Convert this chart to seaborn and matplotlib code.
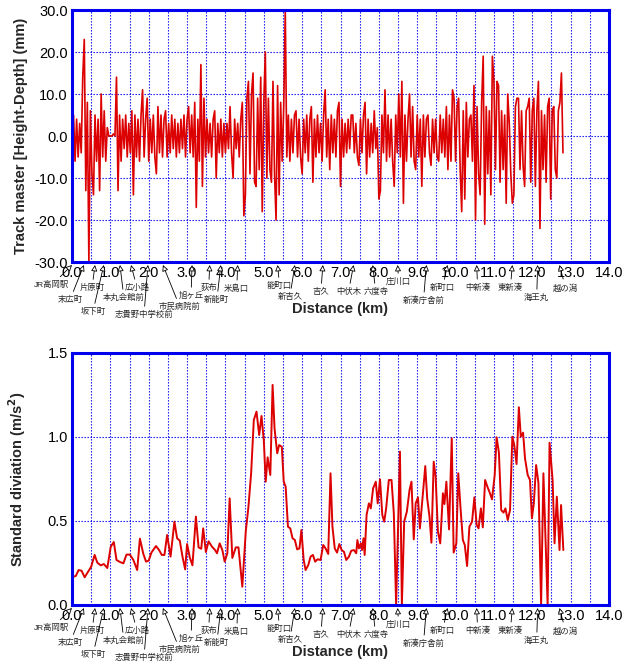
import numpy as np
import pandas as pd
import seaborn as sns
import matplotlib.pyplot as plt
from matplotlib.ticker import MultipleLocator, FormatStrFormatter


#
# data
#

# track irregularity, one value every 0.04 km (one row = 1 km)
track_step_km = 0.04
track_mm = [
    0, 5, -6, 4, -5, 3, -4, 14, 23, -13, 8, -30, 6, -9, -14, 5, -6, 4, -13, 10, -5, 6, -6, 2, 0,
    0, 0, 0.5, 0, 14, -13, 5, -6, 4, -3, 5, -5, 3, -4, 6, -14, 5, -5, 4, -6, 5, 11, -5, 4, 9,
    -6, 4, -4, 5, -5, -9, 7, -4, 5, -5, 4, 6, -5, 3, -4, 5, -3, 4, -5, 3, -4, 4, -3, 5, -5,
    4, 7, -4, 5, -5, 8, -17, 4, -6, 17, -12, 9, -5, 4, -4, 3, -5, 4, 6, -10, 3, -4, 4, -5, 3,
    -4, 3, -3, 7, -4, -10, 4, -3, 3, -5, 4, 8, -19, -14, 9, 13, -9, 10, 15, -11, -12, 9, -8, 14, -18,
    8, 20, -10, 9, -8, -11, 13, -9, -20, 12, -14, 8, -6, 7, 30, -5, 5, -6, 4, -4, 5, 6, -5, 4, -5,
    -9, 4, -4, 5, -6, 4, 7, -11, 4, -5, 5, -4, 3, -6, 5, 11, -5, 4, -8, 5, -4, 4, -5, 6, 8,
    -12, 4, -5, 3, -4, 4, -3, 5, 5, -4, 3, -5, -7, 4, -4, 5, 8, -9, 4, -5, 3, -4, 6, -3, 2,
    -15, -13, 5, -4, 11, -6, 5, -5, 4, -6, -12, 5, -4, 10, -5, 13, -16, 5, -6, 4, 10, -5, 7, -6, -8,
    5, -5, 4, -12, 5, -5, 4, 5, -4, -7, 4, -4, 4, -5, -6, 5, -4, 4, -5, 7, -8, 5, -6, 11, 9,
    -6, 7, 9, -8, -18, 6, -15, 8, -5, 4, 5, -6, 12, -20, 7, -9, -14, 8, 19, -21, 7, -9, 6, -14, 19,
    13, -8, 13, 12, -11, 6, -8, 5, -16, 10, 3, -9, -16, -14, 7, 9, 9, -8, 6, -7, -12, 6, 7, 9, -11,
    6, 9, -12, 6, 13, -22, 6, -8, 5, -11, 7, 9, -15, 6, 7, -8, -10, 6, 8, 15, -4,
]

# standard deviation of acceleration
std_km = [
    0.00, 0.10, 0.17, 0.25, 0.33, 0.42, 0.50, 0.59, 0.66, 0.75, 0.83, 0.92, 1.01, 1.09, 1.16,
    1.25, 1.34, 1.42, 1.51, 1.60, 1.70, 1.77, 1.86, 1.93, 2.00, 2.07, 2.19, 2.27, 2.34, 2.41,
    2.48, 2.57, 2.67, 2.74, 2.81, 2.88, 2.95, 3.00, 3.07, 3.14, 3.23, 3.30, 3.37, 3.42, 3.49,
    3.56, 3.65, 3.73, 3.78, 3.85, 3.92, 3.98, 4.05, 4.11, 4.18, 4.27, 4.34, 4.44, 4.53, 4.60,
    4.67, 4.74, 4.81, 4.88, 4.94, 5.00, 5.05, 5.10, 5.17, 5.23, 5.28, 5.35, 5.40, 5.47, 5.52,
    5.57, 5.63, 5.69, 5.75, 5.81, 5.87, 5.93, 5.98, 6.04, 6.09, 6.16, 6.22, 6.28, 6.34, 6.40,
    6.48, 6.55, 6.61, 6.68, 6.74, 6.79, 6.85, 6.91, 6.97, 7.03, 7.09, 7.15, 7.22, 7.28, 7.35,
    7.41, 7.44, 7.48, 7.53, 7.56, 7.60, 7.63, 7.68, 7.74, 7.79, 7.85, 7.92, 7.97, 8.03, 8.09,
    8.14, 8.19, 8.26, 8.33, 8.39, 8.45, 8.55, 8.60, 8.66, 8.73, 8.80, 8.85, 8.91, 8.96, 9.02,
    9.07, 9.14, 9.21, 9.26, 9.32, 9.37, 9.43, 9.48, 9.54, 9.60, 9.67, 9.71, 9.76, 9.83, 9.90,
    9.95, 10.02, 10.07, 10.13, 10.19, 10.24, 10.30, 10.36, 10.43, 10.49, 10.55, 10.60, 10.66, 10.71, 10.77,
    10.83, 10.89, 10.95, 11.02, 11.07, 11.13, 11.19, 11.25, 11.30, 11.36, 11.42, 11.48, 11.53, 11.59, 11.65,
    11.70, 11.76, 11.81, 11.88, 11.94, 11.99, 12.04, 12.10, 12.16, 12.23, 12.29, 12.40, 12.45, 12.53, 12.58,
    12.64, 12.71, 12.75, 12.81,
]
std_ms2 = [
    0.165, 0.173, 0.208, 0.204, 0.165, 0.198, 0.228, 0.298, 0.252, 0.236, 0.244, 0.220, 0.347, 0.375, 0.268,
    0.256, 0.248, 0.300, 0.300, 0.268, 0.208, 0.395, 0.304, 0.258, 0.264, 0.312, 0.351, 0.327, 0.298, 0.298,
    0.417, 0.288, 0.496, 0.397, 0.383, 0.288, 0.212, 0.363, 0.284, 0.236, 0.526, 0.343, 0.335, 0.456, 0.315,
    0.379, 0.347, 0.327, 0.308, 0.367, 0.327, 0.258, 0.308, 0.635, 0.280, 0.343, 0.343, 0.109, 0.437, 0.585,
    0.784, 1.101, 1.151, 1.012, 1.125, 0.982, 0.734, 0.879, 0.774, 1.310, 1.052, 0.903, 0.952, 0.942, 0.734,
    0.704, 0.466, 0.456, 0.397, 0.387, 0.331, 0.337, 0.446, 0.268, 0.208, 0.238, 0.288, 0.298, 0.258, 0.272,
    0.268, 0.357, 0.337, 0.304, 0.784, 0.466, 0.337, 0.312, 0.363, 0.327, 0.317, 0.268, 0.288, 0.323, 0.327,
    0.308, 0.387, 0.337, 0.367, 0.327, 0.397, 0.298, 0.536, 0.605, 0.575, 0.694, 0.734, 0.605, 0.748, 0.536,
    0.496, 0.575, 0.744, 0.744, 0.546, 0.0, 0.913, 0.0, 0.496, 0.556, 0.685, 0.734, 0.391, 0.605, 0.641,
    0.456, 0.645, 0.827, 0.635, 0.526, 0.371, 0.853, 0.764, 0.437, 0.367, 0.665, 0.601, 0.734, 0.450, 0.992,
    0.312, 0.367, 0.784, 0.575, 0.387, 0.357, 0.232, 0.466, 0.496, 0.641, 0.476, 0.456, 0.575, 0.462, 0.744,
    0.704, 0.669, 0.629, 0.774, 0.998, 0.907, 0.565, 0.550, 0.575, 0.506, 0.565, 1.002, 0.952, 0.839, 1.177,
    1.002, 1.026, 0.873, 0.774, 0.744, 0.516, 0.605, 0.833, 0.728, 0.0, 0.784, 0.0, 0.966, 0.744, 0.367,
    0.645, 0.327, 0.595, 0.327,
]

# stations along the line
station_names = [
    "JR高岡駅", "末広町", "片原町", "坂下町", "本丸会館前", "広小路", "志貴野中学校前", "市民病院前",
    "旭ヶ丘", "荻布", "新能町", "米島口", "能町口", "新吉久", "吉久", "中伏木", "六度寺", "庄川口",
    "新湊庁舎前", "新町口", "中新湊", "東新湊", "海王丸", "越の潟",
]
station_km = [
    0.00, 0.31, 0.60, 0.83, 1.25, 1.54, 1.98, 2.37, 3.13, 3.59, 3.88, 4.32, 5.36, 5.81, 6.54,
    7.34, 7.84, 8.49, 9.24, 9.79, 10.55, 11.48, 12.14, 12.71,
]

# where each station name sits relative to its arrow tip (pixels)
label_dx = [-20, -14, -3, -11, 4, 6, -4, 17, -1, -1, -4, -1, 2, -5, -2, -5, 3, 1, -3, -5, 1, -2, -1, 6]
label_dy = [20, 35, 23, 47, 33, 23, 50, 42, 31, 23, 35, 24, 21, 32, 27, 27, 27, 17, 36, 23, 23, 23, 33, 23]


#
# style
#

sns.set_theme(style="white")
plt.rcParams["font.family"] = ["Liberation Sans", "Noto Sans CJK JP", "DejaVu Sans"]

blue = "#0000ee"
red = "#dd0000"
dpi = 100
px = 72 / dpi  # pixels -> points

track = pd.DataFrame({"km": np.arange(len(track_mm)) * track_step_km, "mm": track_mm})
sd = pd.DataFrame({"km": std_km, "sd": std_ms2})

fig = plt.figure(figsize=(6.35, 6.64), dpi=dpi)
ax_top = fig.add_axes([72 / 635, 1 - 262 / 664, 537 / 635, 252 / 664])
ax_bot = fig.add_axes([72 / 635, 1 - 605 / 664, 537 / 635, 252 / 664])

sns.lineplot(data=track, x="km", y="mm", ax=ax_top, color=red, lw=1.2,
             estimator=None, sort=False, zorder=3)
sns.lineplot(data=sd, x="km", y="sd", ax=ax_bot, color=red, lw=1.4,
             estimator=None, sort=False, zorder=3)


def decorate(ax, ylim, ystep, ylabel):
    ax.set_xlim(0, 14)
    ax.set_ylim(*ylim)
    ax.xaxis.set_major_locator(MultipleLocator(1.0))
    ax.xaxis.set_minor_locator(MultipleLocator(0.5))
    ax.yaxis.set_major_locator(MultipleLocator(ystep))
    ax.xaxis.set_major_formatter(FormatStrFormatter("%.1f"))
    ax.yaxis.set_major_formatter(FormatStrFormatter("%.1f"))
    ax.grid(True, which="both", axis="x", color=blue, ls=(0, (1.2, 1.5)), lw=0.8, zorder=1)
    ax.grid(True, which="major", axis="y", color=blue, ls=(0, (1.2, 1.5)), lw=0.8, zorder=1)
    for s in ax.spines.values():
        s.set_color(blue)
        s.set_linewidth(2.2)
        s.set_zorder(4)
    ax.tick_params(which="both", direction="in", color=blue, length=4, width=1,
                   labelsize=10.5, labelcolor="black", pad=3)
    ax.tick_params(which="minor", length=3)
    ax.set_xlabel("Distance (km)", fontsize=10.5, fontweight="bold")
    ax.xaxis.set_label_coords(0.5, -40 / 252)
    ax.set_ylabel(ylabel, fontsize=10.5, fontweight="bold")
    ax.yaxis.set_label_coords(-44 / 537, 0.5)

    # station arrows under the axis
    for name, km, dx, dy in zip(station_names, station_km, label_dx, label_dy):
        ax.annotate(
            name, xy=(km, -3 / 252), xycoords=("data", "axes fraction"),
            xytext=(dx * px, -dy * px), textcoords="offset points",
            ha="center", va="center", fontsize=6, annotation_clip=False,
            arrowprops=dict(arrowstyle="-|>", fc="white", ec="black", lw=0.6,
                            mutation_scale=9, shrinkA=1, shrinkB=0),
        )


decorate(ax_top, (-30, 30), 10, "Track master [Height-Depth] (mm)")
decorate(ax_bot, (0, 1.5), 0.5, "Standard diviation (m/s$^{\\mathbf{2}}$)")

fig.savefig("out.png", dpi=dpi)
